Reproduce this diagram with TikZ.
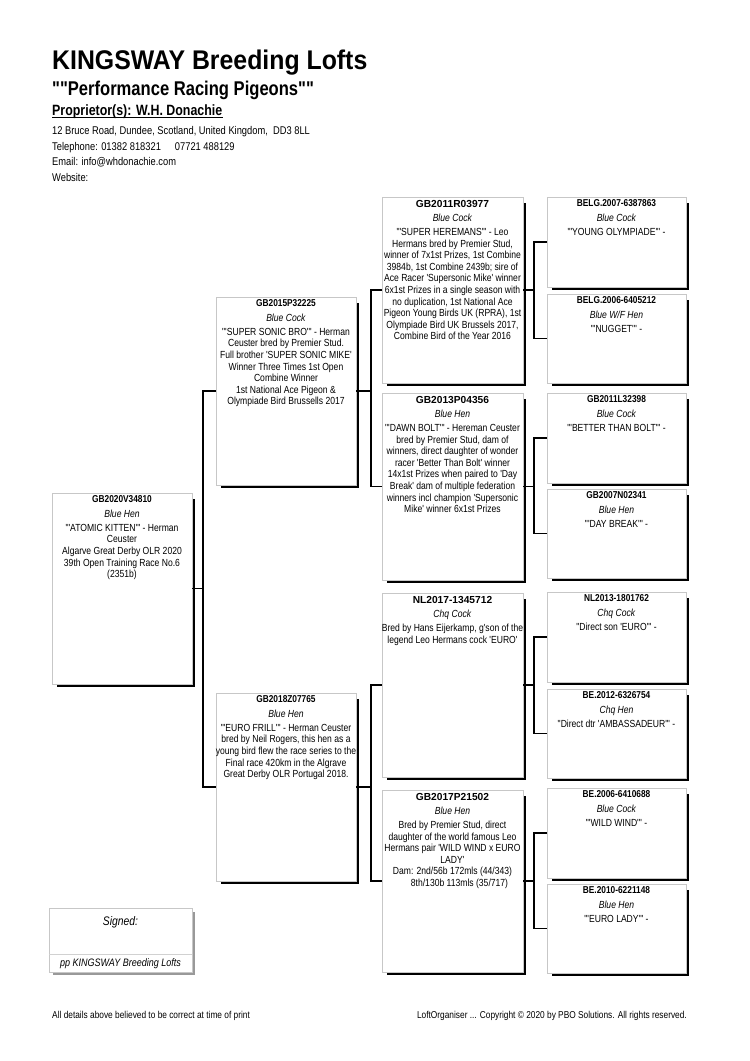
\documentclass[tikz,border=0pt]{standalone}
\usepackage{fontspec}
\setmainfont{Liberation Sans}[FakeStretch=0.833,Ligatures=TeXOff]
\newfontfamily\titlefont{Liberation Sans}[FakeStretch=0.92,Ligatures=TeXOff]
\newfontfamily\widefont{Liberation Sans}[Ligatures=TeXOff]
\tikzset{
  pbox/.style={draw=black!22, line width=0.6pt, fill=white, inner sep=0pt, outer sep=0pt, anchor=north west},
  shad/.style={line width=2.6pt, black, line cap=butt, line join=miter},
  conn/.style={line width=1.8pt, black, line join=miter},
  btext/.style={anchor=north, align=center, inner sep=0pt, font=\fontsize{10.3}{11.6}\selectfont},
  hdr/.style={anchor=base west, inner sep=0pt},
}
\newcommand\pedbox[5]{%
  \node[pbox, minimum width={#4-#2}, minimum height={#5-#3}] (#1) at (#2,#3) {};
  \draw[shad] ([xshift=2pt,yshift=-6pt]#1.north east) -- ([xshift=2pt,yshift=-2pt]#1.south east) -- ([xshift=5pt,yshift=-2pt]#1.south west);}
% #1 box, #2 id font, #3 id, #4 colour, #5 body
\newcommand\pedtext[5]{%
  \node[btext] (#1t) at ([yshift=-2.8pt]#1.north) {{#2\bfseries #3}\\[2.5pt]\textit{#4}\\[2.6pt]#5};}
\newcommand\idn{\fontsize{10}{11.6}\selectfont}
\newcommand\idw{\widefont\fontsize{10.2}{11.6}\selectfont}
\begin{document}
\begin{tikzpicture}[x=1pt,y=-1pt]
\useasboundingbox[fill=white] (0,0) rectangle (750,1061);
% header
\node[hdr, font=\titlefont\fontsize{27}{32}\selectfont\bfseries] (title) at (52,69.3) {KINGSWAY Breeding Lofts};
\node[hdr, font=\fontsize{19.9}{24}\selectfont\bfseries] (subtitle) at (52,95) {""Performance Racing Pigeons""};
\node[hdr, font=\fontsize{14.9}{18}\selectfont\bfseries] (prop) at (52,115) {Proprietor(s): W.H. Donachie};
\draw[line width=1pt] ([yshift=-2.3pt]prop.base west) -- ([yshift=-2.3pt]prop.base east);
\node[hdr, font=\fontsize{11.2}{13}\selectfont] (addr) at (52,134) {12 Bruce Road, Dundee, Scotland, United Kingdom,\ \ DD3 8LL};
\node[hdr, font=\fontsize{11.2}{13}\selectfont] (tel) at (52,150) {Telephone: 01382 818321\hspace{14pt}07721 488129};
\node[hdr, font=\fontsize{11.2}{13}\selectfont] (mail) at (52,165.5) {Email: info@whdonachie.com};
\node[hdr, font=\fontsize{11.2}{13}\selectfont] (web) at (52,181) {Website:};
% boxes
\pedbox{subj}{52}{493}{192}{684}
\pedbox{sire}{216}{297}{356}{485}
\pedbox{dam}{216}{693}{356}{881}
\pedbox{ga}{382}{197}{523}{383}
\pedbox{gb}{382}{393}{523}{580}
\pedbox{gc}{382}{593}{523}{777}
\pedbox{gd}{382}{790}{523}{972}
\pedbox{ha}{547}{197}{686}{287}
\pedbox{hb}{547}{294}{686}{383}
\pedbox{hc}{547}{393}{686}{483}
\pedbox{hd}{547}{489}{686}{578}
\pedbox{he}{547}{592}{686}{682}
\pedbox{hf}{547}{689}{686}{778}
\pedbox{hg}{547}{788}{686}{878}
\pedbox{hh}{547}{884}{686}{973}
% texts
\pedtext{subj}{\idn}{GB2020V34810}{Blue Hen}{"'ATOMIC KITTEN'" - Herman\\Ceuster\\Algarve Great Derby OLR 2020\\39th Open Training Race No.6\\(2351b)}
\pedtext{sire}{\idn}{GB2015P32225}{Blue Cock}{"'SUPER SONIC BRO'" - Herman\\Ceuster bred by Premier Stud.\\Full brother 'SUPER SONIC MIKE'\\Winner Three Times 1st Open\\Combine Winner\\1st National Ace Pigeon \&\\Olympiade Bird Brussells 2017}
\pedtext{dam}{\idn}{GB2018Z07765}{Blue Hen}{"'EURO FRILL'" - Herman Ceuster\\bred by Neil Rogers, this hen as a\\young bird flew the race series to the\\Final race 420km in the Algrave\\Great Derby OLR Portugal 2018.}
\pedtext{ga}{\idw}{GB2011R03977}{Blue Cock}{"'SUPER HEREMANS'" - Leo\\Hermans bred by Premier Stud,\\winner of 7x1st Prizes, 1st Combine\\3984b, 1st Combine 2439b; sire of\\Ace Racer 'Supersonic Mike' winner\\6x1st Prizes in a single season with\\no duplication, 1st National Ace\\Pigeon Young Birds UK (RPRA), 1st\\Olympiade Bird UK Brussels 2017,\\Combine Bird of the Year 2016}
\pedtext{gb}{\idw}{GB2013P04356}{Blue Hen}{"'DAWN BOLT'" - Hereman Ceuster\\bred by Premier Stud, dam of\\winners, direct daughter of wonder\\racer 'Better Than Bolt' winner\\14x1st Prizes when paired to 'Day\\Break' dam of multiple federation\\winners incl champion 'Supersonic\\Mike' winner 6x1st Prizes}
\pedtext{gc}{\idw}{NL2017-1345712}{Chq Cock}{Bred by Hans Eijerkamp, g'son of the\\legend Leo Hermans cock 'EURO'}
\pedtext{gd}{\idw}{GB2017P21502}{Blue Hen}{Bred by Premier Stud, direct\\daughter of the world famous Leo\\Hermans pair 'WILD WIND x EURO\\LADY'\\Dam: 2nd/56b 172mls (44/343)\\\hspace*{14pt}8th/130b 113mls (35/717)}
\pedtext{ha}{\idn}{BELG.2007-6387863}{Blue Cock}{"'YOUNG OLYMPIADE'" -}
\pedtext{hb}{\idn}{BELG.2006-6405212}{Blue W/F Hen}{"'NUGGET'" -}
\pedtext{hc}{\idn}{GB2011L32398}{Blue Cock}{"'BETTER THAN BOLT'" -}
\pedtext{hd}{\idn}{GB2007N02341}{Blue Hen}{"'DAY BREAK'" -}
\pedtext{he}{\idn}{NL2013-1801762}{Chq Cock}{"Direct son 'EURO'" -}
\pedtext{hf}{\idn}{BE.2012-6326754}{Chq Hen}{"Direct dtr 'AMBASSADEUR'" -}
\pedtext{hg}{\idn}{BE.2006-6410688}{Blue Cock}{"'WILD WIND'" -}
\pedtext{hh}{\idn}{BE.2010-6221148}{Blue Hen}{"'EURO LADY'" -}
% connectors
\draw[conn] (subj.east) -- ++(11,0) |- (sire.west);
\draw[conn] (subj.east) -- ++(11,0) |- (dam.west);
\draw[conn] (sire.east) -- ++(15,0) |- (ga.west);
\draw[conn] (sire.east) -- ++(15,0) |- (gb.west);
\draw[conn] (dam.east) -- ++(15,0) |- (gc.west);
\draw[conn] (dam.east) -- ++(15,0) |- (gd.west);
\draw[conn] (ga.east) -- ++(11,0) |- (ha.west);
\draw[conn] (ga.east) -- ++(11,0) |- (hb.west);
\draw[conn] (gb.east) -- ++(11,0) |- (hc.west);
\draw[conn] (gb.east) -- ++(11,0) |- (hd.west);
\draw[conn] (gc.east) -- ++(11,0) |- (he.west);
\draw[conn] (gc.east) -- ++(11,0) |- (hf.west);
\draw[conn] (gd.east) -- ++(11,0) |- (hg.west);
\draw[conn] (gd.east) -- ++(11,0) |- (hh.west);
% signed box
\node[pbox, minimum width=143, minimum height=64] (sign) at (49,908) {};
\draw[line width=2pt, black!40] ([xshift=2pt,yshift=-4pt]sign.north east) -- ([xshift=2pt,yshift=-1.5pt]sign.south east) -- ([xshift=4pt,yshift=-1.5pt]sign.south west);
\draw[black!18, line width=0.6pt] (49,954) -- (192,954);
\node[anchor=base, inner sep=0pt, font=\fontsize{12.4}{14}\selectfont\itshape] (signed) at (120.5,925) {Signed:};
\node[anchor=base, inner sep=0pt, font=\fontsize{10.8}{12}\selectfont\itshape] (pp) at (120.5,966.5) {pp KINGSWAY Breeding Lofts};
% footer
\node[hdr, font=\fontsize{10}{12}\selectfont] (foot1) at (52,1018.5) {All details above believed to be correct at time of print};
\node[anchor=base east, inner sep=0pt, font=\fontsize{10}{12}\selectfont] (foot2) at (687,1018.5) {LoftOrganiser ... Copyright © 2020 by PBO Solutions. All rights reserved.};
\end{tikzpicture}
\end{document}
